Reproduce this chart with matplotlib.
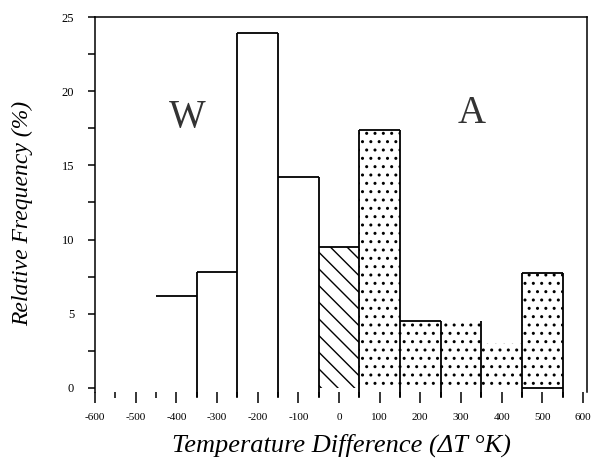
import matplotlib
matplotlib.use("Agg")
import matplotlib.pyplot as plt
import numpy as np

# ---- data ----
w_centers = [-400, -300, -200, -100]
w_heights = [6.2, 7.8, 23.9, 14.2]
a_centers = [0, 100, 200, 300, 400, 500]
a_heights = [9.5, 17.4, 4.5, 4.5, 3.0, 7.75]
a_hatches = ['\\\\', '..', '..', '..', '..', '..']
top_outline = [True, True, True, True, True, True, True, False, False, True]
x_ticks = list(range(-600, 601, 100))
y_ticks = [0, 5, 10, 15, 20, 25]
bin_width = 100

plt.rcParams['hatch.linewidth'] = 1.0
fig = plt.figure(figsize=(6.07, 4.61), dpi=100)
ax = fig.add_axes([0.1565, 0.1497, 0.8105, 0.8134])

ymin = -0.27
ax.set_xlim(-600, 610)
ax.set_ylim(ymin, 25)

lw = 1.3
for c, h, ht in zip(a_centers, a_heights, a_hatches):
    ax.bar(c, h, width=bin_width, bottom=0, fill=False, hatch=ht,
           edgecolor='black', linewidth=0)

centers = w_centers + a_centers
heights = w_heights + a_heights
vbottom = -0.6
# vertical edges
for i in range(len(centers) - 1):
    e = centers[i] + bin_width / 2
    top = max(heights[i], heights[i + 1])
    ax.vlines(e, vbottom, top, color='black', linewidth=lw, clip_on=False)
ax.vlines(centers[-1] + bin_width / 2, vbottom, heights[-1], color='black',
          linewidth=lw, clip_on=False)
# tops
for c, h, t in zip(centers, heights, top_outline):
    if t:
        ax.hlines(h, c - bin_width / 2, c + bin_width / 2, color='black', linewidth=lw)
# box bottom for last bin
ax.hlines(0, a_centers[-1] - bin_width / 2, a_centers[-1] + bin_width / 2,
          color='black', linewidth=lw)

serif = ['Liberation Serif', 'DejaVu Serif']
ax.text(-372, 18.2, 'W', fontsize=28, family=serif, color='0.2',
        ha='center', va='center')
ax.text(327, 18.5, 'A', fontsize=28, family=serif, color='0.2',
        ha='center', va='center')

ax.spines['bottom'].set_visible(False)
for s in ['top', 'left', 'right']:
    ax.spines[s].set_linewidth(1.1)

ax.set_xticks(x_ticks)
ax.set_xticks(list(range(-550, 600, 100)), minor=True)
ax.set_xticklabels([str(v) for v in x_ticks], family=serif, fontsize=8)
ax.set_yticks(y_ticks)
ax.set_yticks([2.5, 7.5, 12.5, 17.5, 22.5], minor=True)
ax.set_yticklabels([str(v) for v in y_ticks], family=serif, fontsize=9)
ax.tick_params(axis='x', which='major', direction='out', length=8, width=1.1, pad=7)
ax.tick_params(axis='x', which='minor', direction='out', length=4, width=1.1)
ax.tick_params(axis='y', which='both', direction='out', length=5, width=1.1, pad=10)

ax.set_xlabel('Temperature Difference (ΔT °K)', family=serif, style='italic',
              fontsize=19, va='center')
ax.xaxis.set_label_coords(0.5, -0.141)
ax.set_ylabel('Relative Frequency (%)', family=serif, style='italic',
              fontsize=17, va='center')
ax.yaxis.set_label_coords(-0.148, 0.477)

fig.savefig('out.png', dpi=100)
